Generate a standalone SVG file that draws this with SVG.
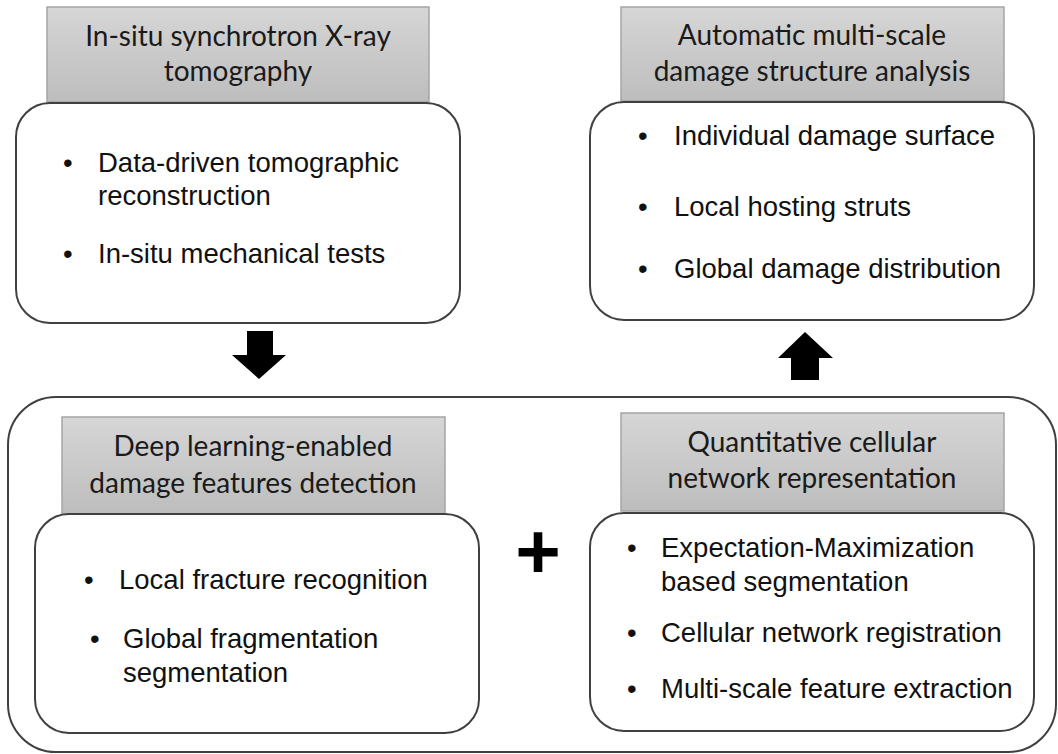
<svg xmlns="http://www.w3.org/2000/svg" width="1058" height="754" viewBox="0 0 1058 754">
<defs>
<linearGradient id="g" x1="0" y1="0" x2="0" y2="1">
<stop offset="0" stop-color="#d6d6d6"/>
<stop offset="1" stop-color="#bdbdbd"/>
</linearGradient>
<style>
.hd{fill:url(#g);stroke:#a5a5a5;stroke-width:1.5}
.bx{fill:#fff;stroke:#404040;stroke-width:2}
.ht{font-family:Lato,"Open Sans",sans-serif;font-size:28px;fill:#1a1a1a;text-anchor:middle}
.bt{font-family:"Liberation Sans",Arial,sans-serif;font-size:27.5px;fill:#111}
.ar{fill:#000}
</style>
</defs>
<rect width="1058" height="754" fill="#fff"/>
<g id="outer">
<rect class="bx" x="8" y="397" width="1048" height="355" rx="48"/>
</g>
<g id="node-tomography">
<rect class="hd" x="47" y="7" width="382" height="95"/>
<text class="ht" x="238" y="46">In-situ synchrotron X-ray</text>
<text class="ht" x="238" y="81">tomography</text>
<rect class="bx" x="16" y="103" width="444" height="220" rx="34"/>
<text class="bt" x="63" y="172">•</text>
<text class="bt" x="98" y="172">Data-driven tomographic</text>
<text class="bt" x="98" y="205">reconstruction</text>
<text class="bt" x="63" y="263">•</text>
<text class="bt" x="98" y="263">In-situ mechanical tests</text>
</g>
<g id="node-analysis">
<rect class="hd" x="621" y="7" width="383" height="94"/>
<text class="ht" x="812" y="45">Automatic multi-scale</text>
<text class="ht" x="812" y="81">damage structure analysis</text>
<rect class="bx" x="590" y="102" width="444" height="218" rx="34"/>
<text class="bt" x="638" y="145">•</text>
<text class="bt" x="674" y="145">Individual damage surface</text>
<text class="bt" x="638" y="216">•</text>
<text class="bt" x="674" y="216">Local hosting struts</text>
<text class="bt" x="638" y="278">•</text>
<text class="bt" x="674" y="278">Global damage distribution</text>
</g>
<g id="node-detection">
<rect class="hd" x="62" y="417" width="383" height="97"/>
<text class="ht" x="253" y="456">Deep learning-enabled</text>
<text class="ht" x="253" y="493">damage features detection</text>
<rect class="bx" x="35" y="514" width="444" height="219" rx="34"/>
<text class="bt" x="84" y="589">•</text>
<text class="bt" x="119" y="589">Local fracture recognition</text>
<text class="bt" x="90" y="648">•</text>
<text class="bt" x="123" y="648">Global fragmentation</text>
<text class="bt" x="123" y="682">segmentation</text>
</g>
<g id="node-network">
<rect class="hd" x="621" y="413" width="383" height="98"/>
<text class="ht" x="812" y="452">Quantitative cellular</text>
<text class="ht" x="812" y="488">network representation</text>
<rect class="bx" x="590" y="513" width="444" height="218" rx="34"/>
<text class="bt" x="627" y="557">•</text>
<text class="bt" x="661" y="557">Expectation-Maximization</text>
<text class="bt" x="661" y="591">based segmentation</text>
<text class="bt" x="627" y="642">•</text>
<text class="bt" x="661" y="642">Cellular network registration</text>
<text class="bt" x="627" y="698">•</text>
<text class="bt" x="661" y="698">Multi-scale feature extraction</text>
</g>
<g id="plus">
<text x="538" y="578" font-family="Liberation Sans,Arial,sans-serif" font-size="78" font-weight="bold" text-anchor="middle" fill="#000">+</text>
</g>
<g id="connectors">
<polygon class="ar" points="247,331 273,331 273,355 286,355 259,379 232,355 247,355"/>
<polygon class="ar" points="805,332 833,358 819,358 819,380 791,380 791,358 778,358"/>
</g>
</svg>
